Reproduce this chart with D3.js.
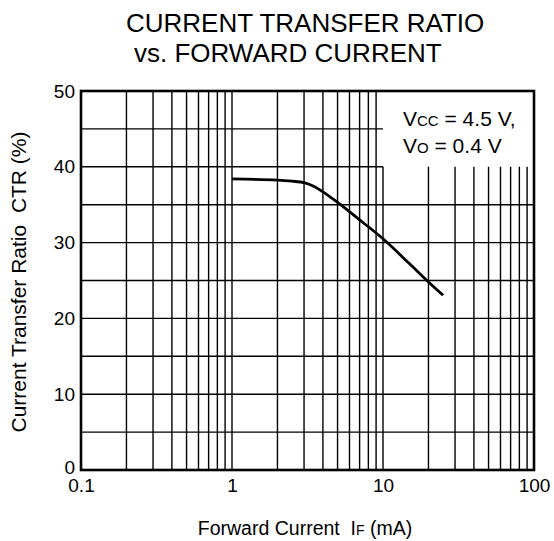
<!DOCTYPE html>
<html>
<head>
<meta charset="utf-8">
<script src="https://cdn.jsdelivr.net/npm/d3@7"></script>
<style>
  body { margin: 0; background: #fff; }
  svg { display: block; font-family: "Liberation Sans", Arial, sans-serif; }
</style>
</head>
<body>
<svg id="chart" width="554" height="541"></svg>
<script>
// Forward current IF (mA) and current transfer ratio CTR (%)
const forwardCurrent = [1, 2, 2.5, 3, 3.5, 4, 5, 7, 10, 15, 20, 25];
const ctrValues      = [38.4, 38.25, 38.1, 37.9, 37.4, 36.7, 35.3, 33.0, 30.5, 27.2, 24.8, 23.05];

const xTickValues = [0.1, 1, 10, 100];
const xTickLabels = ["0.1", "1", "10", "100"];
const yTickValues = [0, 10, 20, 30, 40, 50];
const yGridValues = [5, 10, 15, 20, 25, 30, 35, 40, 45];

const svg = d3.select("#chart");
const plotLeft = 81, plotRight = 534, plotTop = 91, plotBottom = 470;

const x = d3.scaleLog().domain([0.1, 100]).range([plotLeft, plotRight]);
const y = d3.scaleLinear().domain([0, 50]).range([plotBottom, plotTop]);

// Condition box occupies the upper right corner (IF >= 10 mA, CTR >= 40 %)
const boxX = 10, boxY = 40;

// Vertical grid: 2..9 within each decade, plus decade lines
const vLines = [];
[0.1, 1, 10].forEach(dec => {
  for (let k = 1; k <= 9; k++) {
    const v = dec * k;
    if (v > 0.1 + 1e-9) vLines.push(v);
  }
});

const grid = svg.append("g").attr("stroke", "#000").attr("stroke-width", 1.4);
grid.selectAll("line.v").data(vLines).join("line")
  .attr("x1", d => x(d)).attr("x2", d => x(d))
  .attr("y1", d => d >= boxX - 1e-9 ? y(boxY) : plotTop)
  .attr("y2", plotBottom);
grid.selectAll("line.h").data(yGridValues).join("line")
  .attr("x1", plotLeft)
  .attr("x2", d => d >= boxY ? x(boxX) : plotRight)
  .attr("y1", d => y(d)).attr("y2", d => y(d));

// Frame
svg.append("rect")
  .attr("x", plotLeft).attr("y", plotTop)
  .attr("width", plotRight - plotLeft).attr("height", plotBottom - plotTop)
  .attr("fill", "none").attr("stroke", "#000").attr("stroke-width", 2.6);

// CTR curve
const line = d3.line()
  .x(d => x(d[0])).y(d => y(d[1]))
  .curve(d3.curveMonotoneX);
svg.append("path")
  .datum(forwardCurrent.map((f, i) => [f, ctrValues[i]]))
  .attr("d", line)
  .attr("fill", "none").attr("stroke", "#000").attr("stroke-width", 2.8)
  .attr("stroke-linejoin", "round");

// Axes labels
const xAxis = d3.axisBottom(x).tickValues(xTickValues)
  .tickFormat((d, i) => xTickLabels[i]).tickSize(0).tickPadding(9);
const gx = svg.append("g").attr("transform", `translate(0,${plotBottom})`).call(xAxis);
gx.select(".domain").remove();
gx.selectAll("text").attr("font-size", 19).attr("fill", "#000")
  .attr("font-family", "Liberation Sans, Arial, sans-serif");

const yAxis = d3.axisLeft(y).tickValues(yTickValues).tickSize(0).tickPadding(6);
const gy = svg.append("g").attr("transform", `translate(${plotLeft},0)`).call(yAxis);
gy.select(".domain").remove();
gy.selectAll("text").attr("font-size", 19).attr("fill", "#000")
  .attr("font-family", "Liberation Sans, Arial, sans-serif");
// the zero label sits just above the first x label
gy.selectAll("text").filter(d => d === 0).attr("dy", "0.2em");

// Condition text
const cond = svg.append("g").attr("font-size", 21).attr("fill", "#000");
const t1 = cond.append("text").attr("x", 403).attr("y", 126);
t1.append("tspan").text("V");
t1.append("tspan").attr("font-size", 15).text("CC");
t1.append("tspan").text(" = 4.5 V,");
const t2 = cond.append("text").attr("x", 403).attr("y", 153);
t2.append("tspan").text("V");
t2.append("tspan").attr("font-size", 15).text("O");
t2.append("tspan").text(" = 0.4 V");

// Title
const title = svg.append("g").attr("font-size", 26).attr("fill", "#000");
title.append("text").attr("x", 126).attr("y", 32).text("CURRENT TRANSFER RATIO");
title.append("text").attr("x", 134).attr("y", 62).text("vs. FORWARD CURRENT");

// X axis title
const xt = svg.append("text").attr("x", 305).attr("y", 535)
  .attr("text-anchor", "middle").attr("font-size", 19.5).attr("fill", "#000")
  .attr("xml:space", "preserve");
xt.append("tspan").text("Forward Current  I");
xt.append("tspan").attr("font-size", 14).text("F");
xt.append("tspan").text(" (mA)");

// Y axis title
svg.append("text")
  .attr("transform", "translate(26,282) rotate(-90)")
  .attr("text-anchor", "middle").attr("font-size", 21).attr("fill", "#000")
  .attr("xml:space", "preserve")
  .text("Current Transfer Ratio  CTR (%)");
</script>
</body>
</html>
